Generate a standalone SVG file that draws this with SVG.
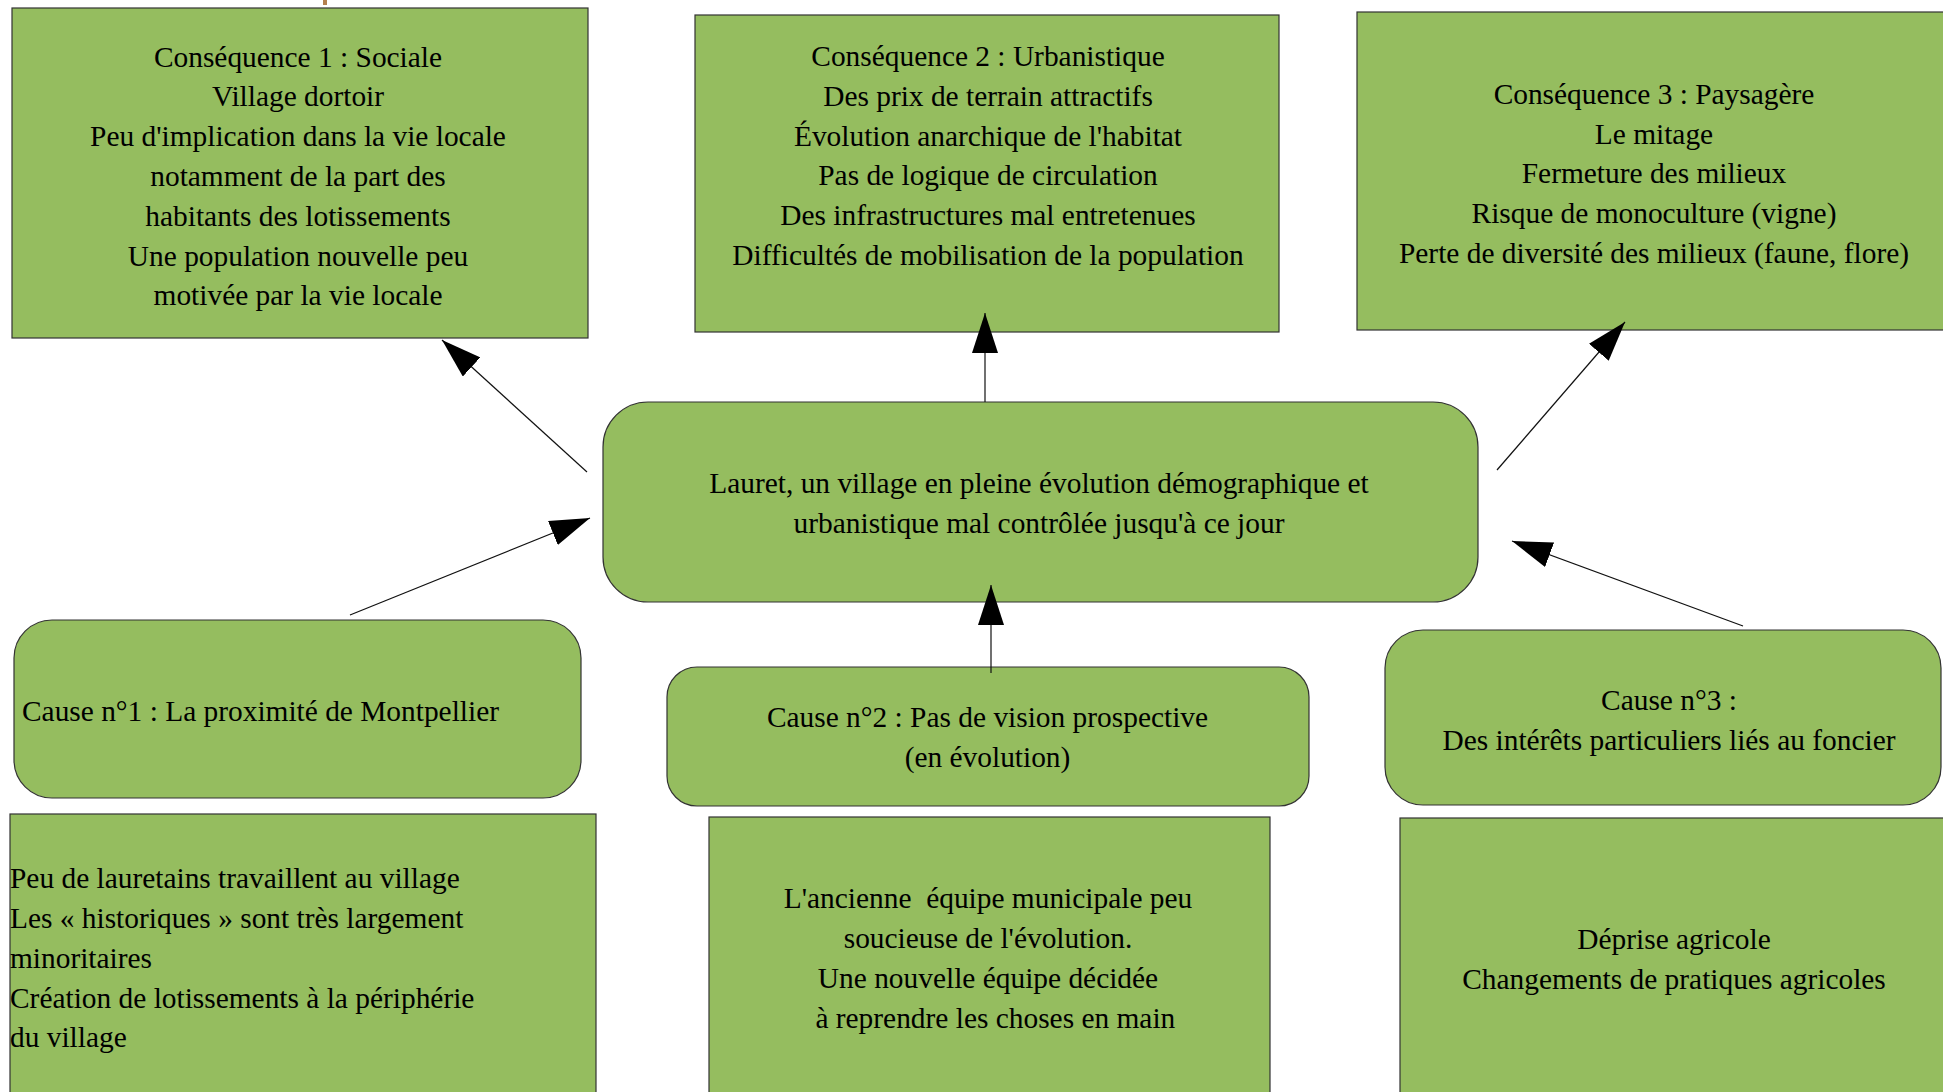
<svg xmlns="http://www.w3.org/2000/svg" width="1943" height="1092" viewBox="0 0 1943 1092">
<style>
.box{fill:#95bd5f;stroke:#333333;stroke-width:1.2}
.t{font-family:"Liberation Serif","Times New Roman",serif;font-size:29.4px;fill:#000;white-space:pre}
.c{text-anchor:middle}
.conn{stroke:#111;stroke-width:1.2;fill:none;marker-end:url(#ah)}
</style>
<defs>
<marker id="ah" markerUnits="userSpaceOnUse" markerWidth="40" markerHeight="26" refX="40" refY="13" orient="auto">
<path d="M0,0 L40,13 L0,26 z" fill="#000"/>
</marker>
</defs>
<rect x="323" y="0" width="4" height="5" fill="#b4804e"/>

<g id="consequence1">
<rect class="box" x="12" y="8" width="576" height="330"/>
<text class="t c" xml:space="preserve"><tspan x="298" y="66.5">Conséquence 1 : Sociale</tspan><tspan x="298" y="106.3">Village dortoir</tspan><tspan x="298" y="146.1">Peu d'implication dans la vie locale</tspan><tspan x="298" y="185.9">notamment de la part des</tspan><tspan x="298" y="225.7">habitants des lotissements</tspan><tspan x="298" y="265.5">Une population nouvelle peu</tspan><tspan x="298" y="305.3">motivée par la vie locale</tspan></text>
</g>

<g id="consequence2">
<rect class="box" x="695" y="15" width="584" height="317"/>
<text class="t c" xml:space="preserve"><tspan x="988" y="66">Conséquence 2 : Urbanistique</tspan><tspan x="988" y="105.8">Des prix de terrain attractifs</tspan><tspan x="988" y="145.6">Évolution anarchique de l'habitat</tspan><tspan x="988" y="185.4">Pas de logique de circulation</tspan><tspan x="988" y="225.2">Des infrastructures mal entretenues</tspan><tspan x="988" y="265">Difficultés de mobilisation de la population</tspan></text>
</g>

<g id="consequence3">
<rect class="box" x="1357" y="12" width="600" height="318"/>
<text class="t c" xml:space="preserve"><tspan x="1654" y="104">Conséquence 3 : Paysagère</tspan><tspan x="1654" y="143.7">Le mitage</tspan><tspan x="1654" y="183.4">Fermeture des milieux</tspan><tspan x="1654" y="223.1">Risque de monoculture (vigne)</tspan><tspan x="1654" y="262.8">Perte de diversité des milieux (faune, flore)</tspan></text>
</g>

<g id="central">
<rect class="box" x="603" y="402" width="875" height="200" rx="45" ry="45"/>
<text class="t c" xml:space="preserve"><tspan x="1039" y="493.3">Lauret, un village en pleine évolution démographique et</tspan><tspan x="1039" y="533.3">urbanistique mal contrôlée jusqu'à ce jour</tspan></text>
</g>

<g id="cause1">
<rect class="box" x="14" y="620" width="567" height="178" rx="38" ry="38"/>
<text class="t" x="22" y="721" xml:space="preserve">Cause n°1 : La proximité de Montpellier</text>
</g>

<g id="cause2">
<rect class="box" x="667" y="667" width="642" height="139" rx="30" ry="30"/>
<text class="t c" xml:space="preserve"><tspan x="987.5" y="726.7">Cause n°2 : Pas de vision prospective</tspan><tspan x="987.5" y="766.7">(en évolution)</tspan></text>
</g>

<g id="cause3">
<rect class="box" x="1385" y="630" width="556" height="175" rx="38" ry="38"/>
<text class="t c" xml:space="preserve"><tspan x="1669" y="710">Cause n°3 :</tspan><tspan x="1669" y="749.5">Des intérêts particuliers liés au foncier</tspan></text>
</g>

<g id="detail1">
<rect class="box" x="10" y="814" width="586" height="300"/>
<text class="t" xml:space="preserve"><tspan x="10" y="888.3">Peu de lauretains travaillent au village</tspan><tspan x="10" y="928">Les « historiques » sont très largement</tspan><tspan x="10" y="967.7">minoritaires</tspan><tspan x="10" y="1007.5">Création de lotissements à la périphérie</tspan><tspan x="10" y="1047.3">du village</tspan></text>
</g>

<g id="detail2">
<rect class="box" x="709" y="817" width="561" height="300"/>
<text class="t c" xml:space="preserve"><tspan x="988" y="908.3">L'ancienne  équipe municipale peu</tspan><tspan x="988" y="948">soucieuse de l'évolution.</tspan><tspan x="988" y="988">Une nouvelle équipe décidée</tspan><tspan x="988" y="1028">  à reprendre les choses en main</tspan></text>
</g>

<g id="detail3">
<rect class="box" x="1400" y="818" width="600" height="300"/>
<text class="t c" xml:space="preserve"><tspan x="1674" y="949">Déprise agricole</tspan><tspan x="1674" y="988.5">Changements de pratiques agricoles</tspan></text>
</g>

<g id="connectors">
<line class="conn" x1="587" y1="472" x2="442" y2="340"/>
<line class="conn" x1="985" y1="402" x2="985" y2="313"/>
<line class="conn" x1="1497" y1="470" x2="1625" y2="322"/>
<line class="conn" x1="350" y1="615" x2="590" y2="518"/>
<line class="conn" x1="991" y1="673" x2="991" y2="585"/>
<line class="conn" x1="1743" y1="626" x2="1512" y2="541"/>
</g>
</svg>
